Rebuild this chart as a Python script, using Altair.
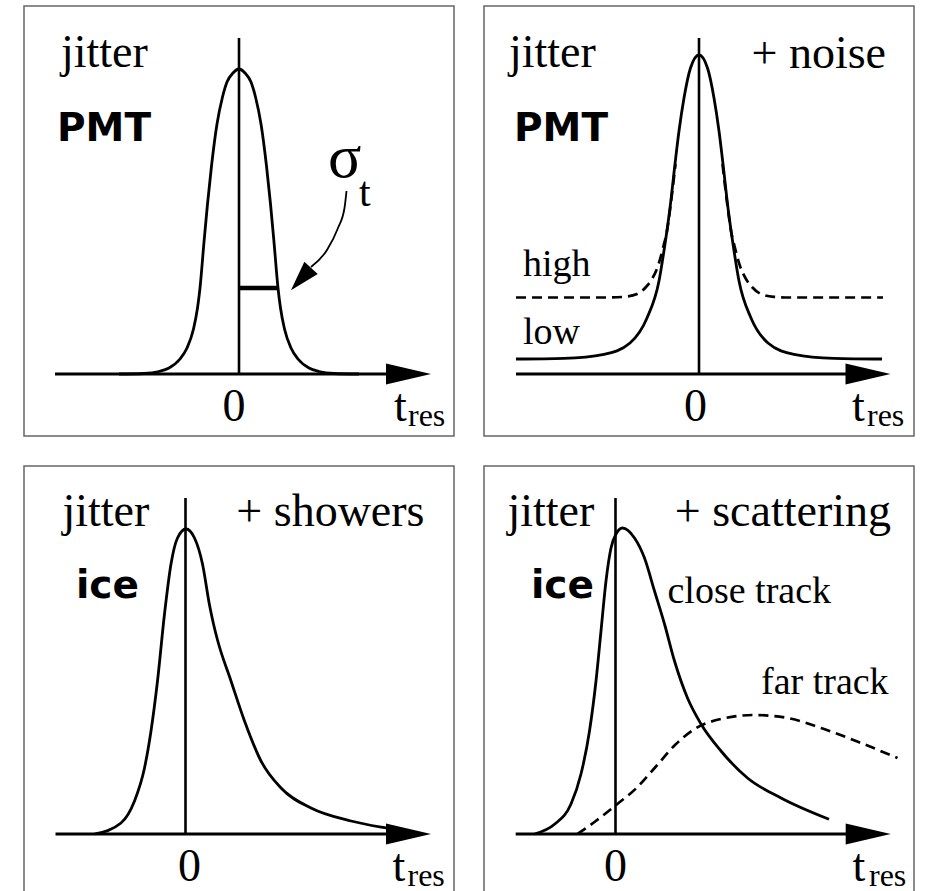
import altair as alt
import pandas as pd

SERIF = "Liberation Serif"
SANS = "DejaVu Sans"
INK = "#000000"

# ---------------- values ----------------
# units: t_res in tenths of the drawing grid, intensity likewise; 0 = zero line / time axis

# Panel A : jitter, PMT (symmetric peak)
A_t = [-12, -9.5, -8.0, -7.0, -5.9, -5.2, -4.55, -4.15, -3.9, -3.5, -3.15, -2.75, -2.2, -1.65, -1.2, -0.6, 0,
       0.6, 1.2, 1.65, 2.2, 2.75, 3.15, 3.5, 3.9, 4.15, 4.55, 5.2, 5.9, 7.0, 8.0, 9.5, 12]
A_y = [0, 0.05, 0.25, 0.6, 1.5, 2.6, 4.5, 6.6, 8.6, 13.2, 17.0, 20.8, 25.0, 27.7, 29.2, 30.1, 30.5,
       30.1, 29.2, 27.7, 25.0, 20.8, 17.0, 13.2, 8.6, 6.6, 4.5, 2.6, 1.5, 0.6, 0.25, 0.05, 0]
A_sigma_bar = [0.0, 3.9, 8.6]            # from t, to t, at height
A_pointer_t = [10.75, 10.55, 9.9, 8.8, 7.2]
A_pointer_y = [18.3, 16.6, 14.6, 12.4, 10.7]
A_pointer_head = [6.2, 9.5]

# Panel B : jitter + noise (low noise solid, high noise dashed)
B_low_t = [-18.3, -13.5, -9.5, -6.9, -5.2, -4.0, -3.4, -2.9, -2.4, -2.0, -1.5, -0.85, 0,
           0.85, 1.5, 2.0, 2.4, 2.9, 3.4, 4.0, 5.2, 6.9, 9.5, 13.5, 18.3]
B_low_y = [1.5, 1.57, 1.97, 3.1, 5.6, 9.3, 13.0, 16.6, 21.0, 24.3, 27.6, 30.6, 31.9,
           30.6, 27.6, 24.3, 21.0, 16.6, 13.0, 9.3, 5.6, 3.1, 1.97, 1.57, 1.5]
B_high_left_t = [-18.3, -9.0, -7.5, -6.2, -5.3, -4.7, -4.1, -3.55, -3.2, -2.85, -2.35]
B_high_left_y = [7.65, 7.65, 7.72, 8.0, 8.7, 9.5, 10.8, 12.8, 14.3, 16.8, 21.0]
B_high_right_t = [2.35, 2.85, 3.2, 3.55, 4.1, 4.7, 5.3, 6.2, 7.5, 9.0, 18.4]
B_high_right_y = [21.0, 16.8, 14.3, 12.8, 10.8, 9.5, 8.7, 8.0, 7.72, 7.65, 7.65]

# Panel C : jitter + showers
C_t = [-9.1, -6.45, -5.1, -4.1, -3.45, -2.8, -2.1, -1.45, -0.8, 0.05, 0.9, 1.7, 2.4, 2.8, 3.2,
       4.55, 5.9, 7.55, 9.55, 12.55, 16.55, 19.9, 21.6]
C_y = [0, 1.1, 3.3, 6.6, 10.3, 15.3, 22.0, 27.0, 29.6, 30.5, 29.6, 27.0, 22.9, 21.0, 19.4,
       15.3, 11.3, 7.3, 4.6, 2.6, 1.3, 0.63, 0.35]

# Panel D : jitter + scattering (close track solid, far track dashed)
D_close_t = [-8.1, -6.1, -4.45, -3.45, -2.6, -1.95, -1.45, -0.95, -0.45, 0.05, 0.7, 1.9, 2.9,
             3.9, 4.9, 5.9, 7.2, 8.55, 10.55, 13.2, 16.55, 21.35]
D_close_y = [0, 0.97, 3.0, 6.0, 10.3, 15.3, 20.3, 25.3, 28.6, 30.0, 30.6, 29.6, 27.6,
             24.3, 21.0, 17.3, 13.6, 11.0, 8.3, 5.6, 3.6, 1.47]
D_far_t = [-3.8, -2.1, 0, 2.1, 4.0, 6.0, 8.0, 10.55, 13.9, 17.2, 20.55, 24.55, 28.2]
D_far_y = [0, 1.2, 2.85, 4.6, 6.7, 8.95, 10.55, 11.5, 11.9, 11.6, 10.6, 9.1, 7.6]

# time axis: start, end of shaft, arrowhead centre ; zero line top
A_axis = [-18.4, 15.2, 16.95]
B_axis = [-18.3, 15.2, 16.9]
C_axis = [-13.0, 20.5, 22.3]
D_axis = [-9.98, 23.4, 25.27]
ZERO_TOP = 33.6

# texts: label, t, y, style
A_text = [("jitter", -17.8, 30.7, "main_l"), ("PMT", -18.2, 23.3, "bold"), ("0", -0.5, -4.7, "main_c"),
          ("t", 15.5, -4.7, "main_l"), ("res", 16.9, -5.2, "res"),
          ("σ", 8.9, 19.7, "sigma"), ("t", 12.0, 16.8, "sigsub")]
B_text = [("jitter", -19.0, 30.7, "main_l"), ("+ noise", 18.7, 30.6, "main_r"), ("PMT", -18.5, 23.3, "bold"),
          ("high", -17.6, 9.8, "label"), ("low", -17.6, 3.0, "label"), ("0", -0.35, -4.7, "main_c"),
          ("t", 15.3, -4.7, "main_l"), ("res", 16.8, -5.2, "res")]
C_text = [("jitter", -12.3, 30.8, "main_l"), ("+ showers", 23.9, 30.8, "main_r"), ("ice", -10.95, 23.6, "bold"),
          ("0", 0.4, -4.7, "main_c"), ("t", 20.7, -4.7, "main_l"), ("res", 22.2, -5.2, "res")]
D_text = [("jitter", -10.8, 30.8, "main_l"), ("+ scattering", 27.55, 30.8, "main_r"), ("ice", -8.45, 23.6, "bold"),
          ("close track", 5.2, 23.1, "label"), ("far track", 14.55, 14.0, "label"),
          ("0", 0.0, -4.7, "main_c"), ("t", 23.7, -4.7, "main_l"), ("res", 25.35, -5.2, "res")]

# ---------------- styling ----------------
STYLES = {
    "main_l": dict(font=SERIF, fontSize=46, align="left"),
    "main_r": dict(font=SERIF, fontSize=46, align="right"),
    "main_c": dict(font=SERIF, fontSize=46, align="center"),
    "res": dict(font=SERIF, fontSize=32, align="left"),
    "label": dict(font=SERIF, fontSize=38, align="left"),
    "bold": dict(font=SANS, fontSize=39, fontWeight="bold", align="left"),
    "sigma": dict(font=SERIF, fontSize=62, align="left"),
    "sigsub": dict(font=SERIF, fontSize=42, align="left"),
}
RIGHT_HEAD = "M -1 -0.47 L 1 0 L -1 0.47 Z"
UP_HEAD = "M 0 -1 L 0.6 1 L -0.6 1 Z"
PANEL = 430
YDOM = [-6.2, 36.8]


def curve_df(pairs):
    rows = []
    for name, ts, ys in pairs:
        for i, (t, y) in enumerate(zip(ts, ys)):
            rows.append({"x": t, "y": y, "id": name, "o": i})
    return pd.DataFrame(rows)


def panel(xdom, solid, dashed, axis, texts, extra=None):
    xs = alt.Scale(domain=xdom, nice=False, zero=False)
    ys = alt.Scale(domain=YDOM, nice=False, zero=False)

    def X(f="x"):
        return alt.X(f"{f}:Q", scale=xs, axis=None)

    def Y(f="y"):
        return alt.Y(f"{f}:Q", scale=ys, axis=None)

    layers = []
    ax = pd.DataFrame({"x": [axis[0]], "x2": [axis[1]], "y": [0.0]})
    layers.append(alt.Chart(ax).mark_rule(color=INK, strokeWidth=3).encode(x=X(), x2="x2:Q", y=Y()))
    ah = pd.DataFrame({"x": [axis[2]], "y": [0.0]})
    layers.append(alt.Chart(ah).mark_point(shape=RIGHT_HEAD, size=2025, filled=True, color=INK,
                                           opacity=1, strokeWidth=0).encode(x=X(), y=Y()))
    zl = pd.DataFrame({"x": [0.0], "y": [0.0], "y2": [ZERO_TOP]})
    layers.append(alt.Chart(zl).mark_rule(color=INK, strokeWidth=2.6).encode(x=X(), y=Y(), y2="y2:Q"))
    if dashed is not None:
        layers.append(alt.Chart(dashed).mark_line(color=INK, strokeWidth=2.7, strokeDash=[10, 6],
                                                  interpolate="monotone").encode(
            x=X(), y=Y(), detail="id:N", order="o:Q"))
    layers.append(alt.Chart(solid).mark_line(color=INK, strokeWidth=2.8, interpolate="monotone").encode(
        x=X(), y=Y(), detail="id:N", order="o:Q"))
    if extra is not None:
        layers.extend(extra(X, Y))
    tdf = pd.DataFrame([{"label": a, "x": b, "y": c, "style": d} for a, b, c, d in texts])
    for st in tdf["style"].unique():
        sub = tdf[tdf["style"] == st]
        layers.append(alt.Chart(sub).mark_text(baseline="alphabetic", color=INK, **STYLES[st]).encode(
            x=X(), y=Y(), text="label:N"))
    return alt.layer(*layers).properties(width=PANEL, height=PANEL)


def sigma_extra(X, Y):
    bar = pd.DataFrame({"x": [A_sigma_bar[0]], "x2": [A_sigma_bar[1]], "y": [A_sigma_bar[2]]})
    ptr = pd.DataFrame({"x": A_pointer_t, "y": A_pointer_y, "o": list(range(len(A_pointer_t)))})
    head = pd.DataFrame({"x": [A_pointer_head[0]], "y": [A_pointer_head[1]]})
    return [
        alt.Chart(bar).mark_rule(color=INK, strokeWidth=4.5).encode(x=X(), x2="x2:Q", y=Y()),
        alt.Chart(ptr).mark_line(color=INK, strokeWidth=1.8, interpolate="monotone").encode(
            x=X(), y=Y(), order="o:Q"),
        alt.Chart(head).mark_point(shape=UP_HEAD, size=900, angle=222, filled=True, color=INK,
                                   opacity=1, strokeWidth=0).encode(x=X(), y=Y()),
    ]


pA = panel([-21.5, 21.5], curve_df([("jitter", A_t, A_y)]), None, A_axis, A_text, sigma_extra)
pB = panel([-21.5, 21.5], curve_df([("low", B_low_t, B_low_y)]),
           curve_df([("high_l", B_high_left_t, B_high_left_y), ("high_r", B_high_right_t, B_high_right_y)]),
           B_axis, B_text)
pC = panel([-16.15, 26.85], curve_df([("showers", C_t, C_y)]), None, C_axis, C_text)
pD = panel([-13.15, 29.85], curve_df([("close", D_close_t, D_close_y)]),
           curve_df([("far", D_far_t, D_far_y)]), D_axis, D_text)

chart = (
    alt.concat(pA, pB, pC, pD, columns=2, spacing=30, bounds="flush")
    .resolve_scale(x="independent", y="independent")
    .properties(padding={"left": 23, "top": 5, "right": 4, "bottom": 0}, background="white")
    .configure_view(stroke="#666666", strokeWidth=1.5)
)

chart.save("out.html", embed_options={"renderer": "svg", "actions": False})
